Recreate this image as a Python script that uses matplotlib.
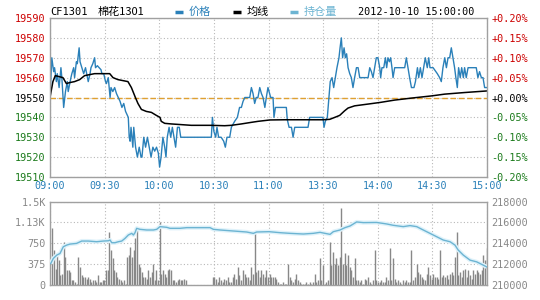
import numpy as np
import matplotlib.pyplot as plt
from matplotlib.lines import Line2D

# price line vertices (minute index from 09:00, price) - ten per row
price_t = [0, 1, 2, 2.5, 3.5, 4, 5, 6, 6.5, 7.5,
           8.5, 9.5, 10, 11.5, 12, 13, 13.5, 14.5, 15, 16,
           16.5, 17.5, 18.5, 19.5, 21, 22, 22.5, 23.5, 24.5, 25,
           26, 27, 28, 28.5, 29.5, 30.5, 31, 32, 33, 33.5,
           34.5, 35.5, 36.5, 37.5, 38.5, 39.5, 40.5, 41.5, 43, 43.5,
           44, 44.5, 45.5, 46, 47, 48, 49, 50, 50.5, 51.5,
           52.5, 53.5, 54.5, 55.5, 56.5, 57.5, 58.5, 59.5, 60.2, 61,
           62, 63, 63.7, 64.4, 65.4, 66.3, 67.2, 68.1, 69, 70,
           71, 71.8, 88.6, 89.2, 90, 91, 91.7, 92.6, 94, 95.4,
           96.3, 97.2, 98.7, 99.6, 101.4, 102.9, 104.1, 105.1, 106, 107,
           108.7, 109.7, 110.6, 111.5, 112.4, 113.3, 114.2, 115.2, 116.1, 117,
           118, 118.8, 119.7, 121.2, 122.5, 123, 123.8, 129.8, 130.3, 131.3,
           132.6, 133.5, 134.4, 141.7, 142.6, 149.9, 150.5, 151.2, 152.3, 153.2,
           153.9, 154.9, 155.8, 156.7, 157.6, 158.7, 159.3, 160, 160.7, 161.5,
           162.2, 162.9, 163.7, 164.6, 165.5, 166.4, 167.3, 168.3, 169.2, 170.1,
           174.7, 175.6, 176.5, 177.4, 178.3, 179.2, 180.1, 181.1, 181.6, 182.3,
           183.3, 184.2, 184.9, 185.6, 186.4, 187.1, 187.8, 188.4, 189.3, 194.8,
           195.7, 196.6, 197.5, 198.5, 199.9, 200.7, 201.8, 202.5, 203.4, 204.3,
           205.2, 206.1, 207.2, 208, 208.7, 210.4, 212.7, 214, 214.9, 215.8,
           216.8, 217.7, 218.6, 219.5, 220.4, 221.3, 222.2, 222.9, 223.7, 224.4,
           225.3, 226.1, 227, 227.7, 228.6, 229.6, 234.1, 235, 235.9, 236.9,
           237.8, 238.7, 240]
price = [19550, 19570, 19563, 19565, 19558, 19562, 19555, 19565, 19560, 19545,
         19553, 19558, 19553, 19560, 19562, 19565, 19560, 19568, 19567, 19575,
         19568, 19565, 19562, 19565, 19558, 19562, 19565, 19567, 19570, 19565,
         19566, 19565, 19564, 19562, 19562, 19558, 19557, 19560, 19550, 19555,
         19553, 19555, 19552, 19550, 19548, 19545, 19547, 19543, 19540, 19530,
         19528, 19535, 19525, 19535, 19525, 19520, 19525, 19520, 19520, 19530,
         19525, 19530, 19525, 19520, 19525, 19523, 19525, 19522, 19515, 19520,
         19530, 19525, 19520, 19530, 19535, 19530, 19535, 19530, 19525, 19535,
         19535, 19530, 19530, 19540, 19533, 19530, 19535, 19530, 19530, 19528,
         19525, 19530, 19530, 19535, 19538, 19540, 19545, 19545, 19548, 19550,
         19550, 19550, 19555, 19552, 19547, 19550, 19550, 19555, 19552, 19550,
         19545, 19550, 19555, 19550, 19550, 19540, 19545, 19545, 19539, 19535,
         19535, 19530, 19535, 19535, 19540, 19540, 19535, 19538, 19540, 19550,
         19558, 19560, 19555, 19560, 19565, 19570, 19575, 19580, 19570, 19575,
         19570, 19572, 19565, 19562, 19560, 19555, 19560, 19565, 19565, 19560,
         19560, 19565, 19563, 19560, 19565, 19570, 19570, 19565, 19560, 19565,
         19565, 19570, 19565, 19570, 19568, 19570, 19565, 19560, 19565, 19565,
         19570, 19565, 19560, 19555, 19555, 19558, 19565, 19560, 19565, 19560,
         19565, 19570, 19565, 19570, 19565, 19565, 19562, 19560, 19558, 19565,
         19570, 19565, 19570, 19570, 19575, 19570, 19565, 19560, 19555, 19565,
         19560, 19565, 19560, 19565, 19560, 19565, 19565, 19560, 19563, 19560,
         19560, 19555, 19555]

avg_t = [0, 1.6, 2.9, 7.1, 9, 10.8, 13.5, 16.3, 19, 24.5,
         32.8, 34.6, 37.3, 42.8, 44.7, 46.9, 48.3, 50.2, 52.9, 55.7,
         58.4, 60.4, 61.1, 63, 66.6, 77.6, 88.6, 95.9, 99.6, 105.1,
         110.6, 114.2, 120.8, 128.9, 149.9, 153.6, 156.4, 159.1, 161.8, 163.7,
         167.3, 174.7, 181.2, 189.3, 198.5, 209.5, 216.8, 227.7, 240]
avg = [19550, 19558, 19561, 19560, 19557, 19557.5, 19558, 19559, 19561, 19562,
       19562, 19560, 19559, 19558, 19555, 19550, 19547, 19544, 19543, 19542.5,
       19541, 19540, 19538, 19537, 19536.7, 19536, 19536, 19535.8, 19536, 19536.7,
       19537.5, 19538, 19538.7, 19538.8, 19538.8, 19539, 19540, 19541, 19543.3, 19544.7,
       19545.8, 19546.7, 19547.5, 19548.7, 19549.7, 19550.8, 19551.7, 19552.5, 19553.3]

vol_am = [1020, 630, 300, 540, 450, 180, 210, 780, 510, 270, 270, 240, 90, 90, 60, 30, 510, 330, 180,
          150, 140, 120, 140, 120, 60, 90, 90, 60, 180, 60, 60, 90, 90, 270, 270, 960, 630, 480, 270,
          240, 150, 120, 90, 60, 90, 30, 510, 540, 690, 510, 630, 840, 1050, 390, 330, 240, 150, 150,
          120, 270, 150, 240, 390, 90, 270, 90, 1140, 210, 270, 210, 150, 270, 300, 270, 90, 90, 60,
          90, 120, 90, 90, 120, 90]
vol_pm = [150, 150, 120, 60, 150, 90, 60, 120, 90, 150, 60, 60, 150, 210, 120, 330, 180, 90, 270, 210,
          150, 150, 90, 330, 210, 960, 240, 270, 150, 270, 210, 150, 270, 150, 210,
          150, 150, 140, 120, 60, 30, 30, 60, 30, 30, 390, 140, 90, 60, 120, 210, 90, 60, 30, 20, 30,
          60, 30, 60, 30, 60, 210, 60, 90, 480, 90, 360, 30, 60, 90, 780, 360, 600, 390, 480, 360, 510,
          1380, 390, 570, 360, 540, 330, 270, 150, 480, 90, 90, 60, 90, 30, 120, 90, 150, 60, 30, 90,
          630, 90, 60, 60, 90, 60, 60, 150, 90, 660, 90, 480, 120, 60, 90, 60, 30, 90, 60, 90, 60, 60,
          630, 90, 150, 390, 240, 210, 150, 120, 90, 210, 330, 180, 120, 210, 150, 150, 120, 630, 150,
          180, 150, 180, 120, 210, 240, 180, 510, 960, 180, 240, 150, 270, 300, 150, 270, 180, 120,
          270, 210, 270, 240, 210, 270, 540, 450, 660]

oi_t = [0.4, 1.8, 3.7, 5.5, 7.3, 9.2, 11, 14.6, 17.4, 21,
        25.6, 29.3, 32, 33, 33.9, 35.7, 37.5, 39.4, 41.2, 43,
        44.9, 45.8, 46.7, 47.6, 49.4, 53.1, 56.8, 58.6, 60.4, 64.1,
        65.9, 71.4, 75.1, 87.9, 89.7, 93.4, 100.7, 108, 111.7, 113.5,
        120.3, 126.3, 131.8, 139.1, 144.6, 148.3, 151, 153.8, 155.6, 159.3,
        162, 164.8, 168.4, 172.1, 179.4, 184.9, 188.5, 194, 197.7, 201.4,
        205, 210.5, 216, 219.7, 222.4, 224.2, 227, 230.7, 234.3, 238,
        239.8]
oi = [212080, 212560, 212880, 213040, 213680, 213840, 213936, 214000, 214224, 214224,
      214160, 214224, 214250, 214320, 214064, 214064, 214160, 214224, 214480, 214800,
      214960, 214800, 215024, 215440, 215344, 215280, 215280, 215344, 215600, 215536,
      215440, 215440, 215504, 215504, 215344, 215280, 215184, 215088, 214960, 215088,
      215120, 215024, 214960, 214896, 214960, 215056, 214960, 214864, 215120, 215280,
      215504, 215664, 216048, 215984, 216000, 215856, 215728, 215600, 215700, 215600,
      215280, 214800, 214320, 214160, 213840, 213360, 212880, 212400, 212240, 211920,
      211760]

time_ticks = [0, 30, 60, 90, 120, 150, 180, 210, 240]
time_labels = ['09:00', '09:30', '10:00', '10:30', '11:00', '13:30', '14:00', '14:30', '15:00']
price_ticks = [19510, 19520, 19530, 19540, 19550, 19560, 19570, 19580, 19590]
base = 19550
vol_ticks = [0, 375, 750, 1125, 1500]
vol_labels = ['0', '375', '750', '1.13K', '1.5K']
oi_ticks = [210000, 212000, 214000, 216000, 218000]

mono = 'DejaVu Sans Mono'
cjk = ['Noto Sans CJK SC', 'DejaVu Sans']
frame = '#a0a0a0'
red, green = '#cc0000', '#1a7a1a'
c_price, c_oi = '#2a80b9', '#6cb4d2'

fig = plt.figure(figsize=(5.4, 3.0), dpi=100)
ax1 = fig.add_axes([50/540, 123/300, 437/540, 159/300])
ax2 = fig.add_axes([50/540, 14.7/300, 437/540, 83.8/300])

def style(ax):
    for s in ax.spines.values():
        s.set_color(frame)
        s.set_linewidth(1)
    ax.grid(True, color='#b8b8b8', linestyle=(0, (1, 2)), linewidth=0.8)
    ax.tick_params(length=0, pad=3)
    ax.set_xlim(0, 240)
    ax.set_xticks(time_ticks)

# price panel
style(ax1)
ax1.set_ylim(19510, 19590)
ax1.set_yticks(price_ticks)
ax1.axhline(base, color='#e0a030', linestyle=(0, (4, 2)), linewidth=1)
ax1.plot(price_t, price, color=c_price, linewidth=1.0)
ax1.plot(avg_t, avg, color='black', linewidth=1.1)
ax1.set_xticklabels(time_labels, fontfamily=mono, fontsize=7.3, color=c_price)
ax1.set_yticklabels([str(p) for p in price_ticks], fontfamily=mono, fontsize=7.3)
for lab, p in zip(ax1.get_yticklabels(), price_ticks):
    lab.set_color(red if p > base else green if p < base else 'black')

axr = ax1.twinx()
axr.set_ylim(19510, 19590)
axr.set_yticks(price_ticks)
axr.set_yticklabels(['%+.2f%%' % ((p - base) / base * 100) for p in price_ticks],
                    fontfamily=mono, fontsize=7.3)
for lab, p in zip(axr.get_yticklabels(), price_ticks):
    lab.set_color(red if p > base else green if p < base else 'black')
axr.tick_params(length=0, pad=3)
for s in axr.spines.values():
    s.set_visible(False)

# volume / open interest panel
style(ax2)
ax2.set_ylim(0, 1500)
ax2.set_yticks(vol_ticks)
ax2.set_yticklabels(vol_labels, fontfamily=mono, fontsize=7.3, color='#888888')
ax2.set_xticklabels([])
am_x = np.linspace(1.3, 74.5, len(vol_am))
pm_x = np.linspace(89.4, 239.8, len(vol_pm))
ax2.vlines(am_x, 0, vol_am, color='#888888', linewidth=1)
ax2.vlines(pm_x, 0, vol_pm, color='#888888', linewidth=1)

ax3 = ax2.twinx()
ax3.set_ylim(210000, 218000)
ax3.set_yticks(oi_ticks)
ax3.set_yticklabels([str(v) for v in oi_ticks], fontfamily=mono, fontsize=7.3, color='#888888')
ax3.tick_params(length=0, pad=3)
for s in ax3.spines.values():
    s.set_visible(False)
ax3.plot(oi_t, oi, color='#dff2fa', linewidth=3, solid_capstyle='butt')
ax3.plot(oi_t, oi, color=c_oi, linewidth=1)

# header line
ty = 1 - 12/300
fig.text(50/540, ty, 'CF1301', fontfamily=mono, fontsize=7.5, va='center')
fig.text(98/540, ty, '棉花1301', fontfamily=cjk, fontsize=8, va='center')
for x0, col, label in [(175, c_price, '价格'), (233, 'black', '均线'), (290, c_oi, '持仓量')]:
    fig.add_artist(Line2D([x0/540, (x0 + 8)/540], [ty, ty], color=col, linewidth=2.5,
                          solid_capstyle='butt'))
    fig.text((x0 + 14)/540, ty, label, color=col, fontfamily=cjk, fontsize=8, va='center')
fig.text(358/540, ty, '2012-10-10 15:00:00', fontfamily=mono, fontsize=7.3, va='center')

fig.savefig('out.png', dpi=100)
